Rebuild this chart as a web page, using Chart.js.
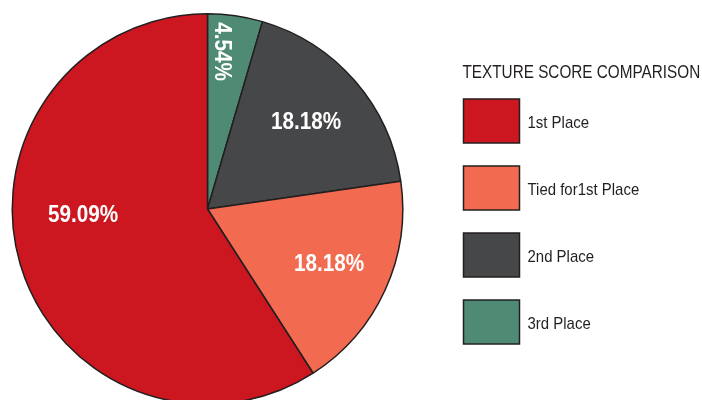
<!DOCTYPE html>
<html>
<head>
<meta charset="utf-8">
<script src="https://cdn.jsdelivr.net/npm/chart.js@4.4.1/dist/chart.umd.min.js"></script>
<style>
  html, body { margin: 0; padding: 0; background: #fff; overflow: hidden; }
  #wrap { width: 702px; height: 420px; }
</style>
</head>
<body>
<div id="wrap"><canvas id="piechart" width="702" height="420"></canvas></div>
<script>
const FONT = '"Liberation Sans", Arial, sans-serif';

// slices go clockwise from 12 o'clock
const categories = ["3rd Place", "2nd Place", "Tied for1st Place", "1st Place"];
const shares = [4.54, 18.18, 18.18, 59.09];
const sliceColors = ["#4f8a74", "#464749", "#f26a4f", "#cc1720"];
const chartTitle = "TEXTURE SCORE COMPARISON";

// no condensed face installed, so squeeze the regular one
function narrowText(ctx, text, x, y, sx) {
  ctx.save();
  ctx.translate(x, y);
  ctx.scale(sx, 1);
  ctx.fillText(text, 0, 0);
  ctx.restore();
}

// percent labels inside the slices
const sliceLabels = {
  id: "sliceLabels",
  afterDatasetsDraw(chart, args, opts) {
    const { ctx } = chart;
    const meta = chart.getDatasetMeta(0);
    meta.data.forEach((arc, i) => {
      const p = arc.getProps(["x", "y", "startAngle", "endAngle", "outerRadius"], true);
      let ang = (p.startAngle + p.endAngle) / 2;
      if (opts.angle[i] != null) ang = (opts.angle[i] * Math.PI) / 180;
      const r = p.outerRadius * opts.radius[i];
      const x = p.x + Math.cos(ang) * r;
      const y = p.y + Math.sin(ang) * r;
      ctx.save();
      ctx.translate(x, y);
      if (opts.vertical[i]) ctx.rotate(Math.PI / 2);
      ctx.fillStyle = "#fff";
      ctx.font = "bold 23px " + FONT;
      ctx.textAlign = "center";
      ctx.textBaseline = "middle";
      narrowText(ctx, chart.data.datasets[0].data[i].toFixed(2) + "%", 0, opts.vertical[i] ? 1 : 3, 0.9);
      ctx.restore();
    });
  },
};

// legend drawn on the right, largest slice first
const sideLegend = {
  id: "sideLegend",
  afterDraw(chart, args, opts) {
    const { ctx } = chart;
    const ds = chart.data.datasets[0];
    ctx.save();
    ctx.fillStyle = "#231f20";
    ctx.font = "18px " + FONT;
    ctx.textAlign = "left";
    ctx.textBaseline = "alphabetic";
    narrowText(ctx, opts.title, opts.x - 1, 78, 0.85);
    const order = chart.data.labels.map((_, i) => i).reverse();
    order.forEach((idx, k) => {
      const top = opts.top + k * opts.step;
      ctx.fillStyle = ds.backgroundColor[idx];
      ctx.fillRect(opts.x, top, opts.boxW, opts.boxH);
      ctx.lineWidth = 1.5;
      ctx.strokeStyle = "#231f20";
      ctx.strokeRect(opts.x, top, opts.boxW, opts.boxH);
      ctx.fillStyle = "#231f20";
      ctx.font = "17px " + FONT;
      ctx.textBaseline = "middle";
      narrowText(ctx, chart.data.labels[idx], opts.x + opts.boxW + 8, top + opts.boxH / 2 + 2, 0.88);
    });
    ctx.restore();
  },
};

new Chart(document.getElementById("piechart"), {
  type: "pie",
  data: {
    labels: categories,
    datasets: [
      {
        data: shares,
        backgroundColor: sliceColors,
        borderColor: "#231f20",
        borderWidth: 1.5,
      },
    ],
  },
  options: {
    responsive: false,
    animation: false,
    layout: { padding: { left: 11, top: 13, right: 298, bottom: 15 } },
    plugins: {
      legend: { display: false },
      tooltip: { enabled: false },
      sliceLabels: {
        radius: [0.81, 0.68, 0.68, 0.638],
        angle: [-84.5, -42.1, 23.6, 178.4],
        vertical: [true, false, false, false],
      },
      sideLegend: {
        title: chartTitle,
        x: 463.5,
        top: 99,
        step: 67,
        boxW: 56,
        boxH: 44,
      },
    },
  },
  plugins: [sliceLabels, sideLegend],
});
</script>
</body>
</html>
